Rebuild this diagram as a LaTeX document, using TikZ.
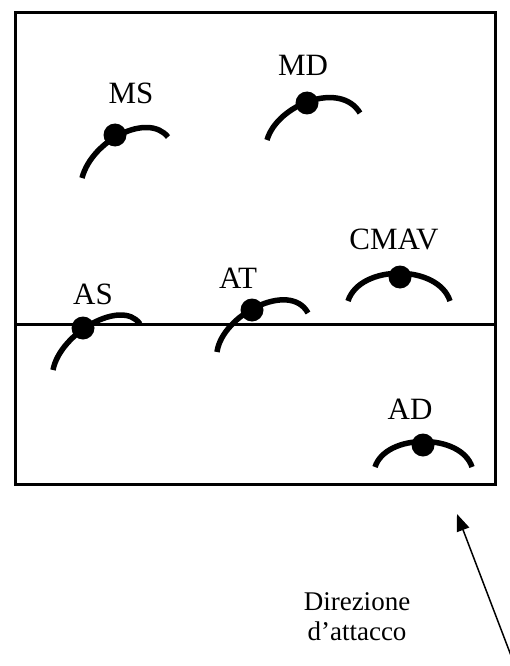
\documentclass[tikz,border=0pt]{standalone}
\usepackage{fontspec}
\setmainfont{Liberation Serif}
\usetikzlibrary{arrows.meta}
\begin{document}
\begin{tikzpicture}[x=1pt,y=-1pt,
  field/.style={line width=3pt},
  player/.style={line width=5.5pt},
  dotp/.style={fill=black,draw=none},
  lbl/.style={anchor=base,inner sep=0pt,font=\fontsize{31}{33}\selectfont},
  dir/.style={align=center,inner sep=0pt,font=\fontsize{27}{30}\selectfont}]
\useasboundingbox (0,0) rectangle (510,666);
% field
\draw[field] (15,13) rectangle (495,484);
\draw[field] (15,324) -- (495,324);
% players
\draw[player] (82,178) .. controls (92,140) and (148,112) .. (168,137);
\fill[dotp] (115,135) circle (11.5);
\node[lbl] (ms) at (131,104) {MS};
\draw[player] (267,140) .. controls (277,105) and (340,80) .. (360,113);
\fill[dotp] (307,103) circle (11.5);
\node[lbl] (md) at (303,76) {MD};
\draw[player] (348,301) .. controls (360,264) and (438,264) .. (450,301);
\fill[dotp] (400,277) circle (11.5);
\node[lbl] (cmav) at (394,249) {CMAV};
\draw[player] (53,370) .. controls (60,333) and (122,298) .. (140,324);
\fill[dotp] (83,328) circle (11.5);
\node[lbl] (as) at (93,304) {AS};
\draw[player] (217,352) .. controls (222,315) and (290,280) .. (308,313);
\fill[dotp] (252,310) circle (11.5);
\node[lbl] (at) at (238,288) {AT};
\draw[player] (375,467) .. controls (386,433) and (461,433) .. (472,467);
\fill[dotp] (423,445) circle (11.5);
\node[lbl] (ad) at (410,419) {AD};
% direction
\node[dir] (dirtext) at (357,617) {Direzione\\d’attacco};
\coordinate (tail) at (515,666);
\coordinate (tip) at (457,514);
\draw[line width=1.5pt,-{Triangle[length=17pt,width=13pt]}] (tail) -- (tip);
\end{tikzpicture}
\end{document}
